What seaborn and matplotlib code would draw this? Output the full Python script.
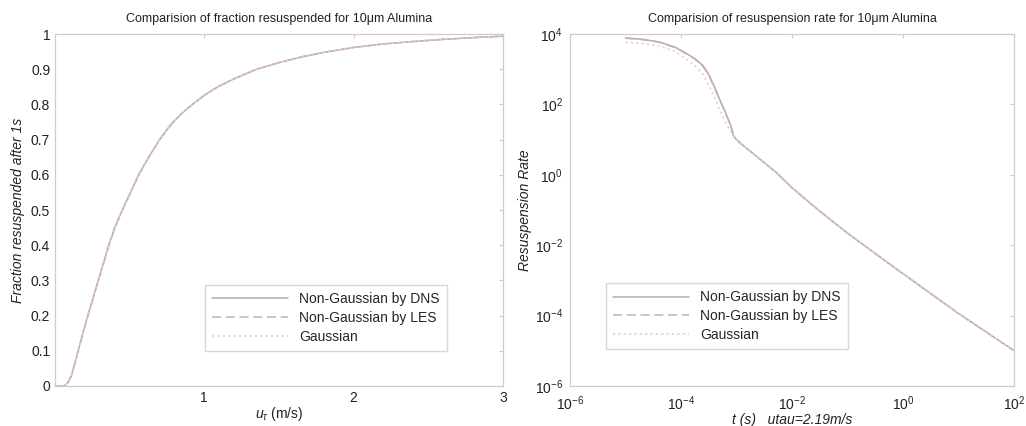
import matplotlib
matplotlib.use("Agg")
import matplotlib.pyplot as plt
import seaborn as sns
import pandas as pd

# fraction resuspended after 1s vs friction velocity
u_tau = [0, 0.05, 0.07, 0.09, 0.11, 0.13, 0.155, 0.19, 0.22, 0.26, 0.29, 0.33, 0.36, 0.40,
         0.45, 0.50, 0.56, 0.62, 0.70, 0.78, 0.85, 0.92, 1.0, 1.09, 1.2, 1.35, 1.5, 1.65,
         1.8, 2.0, 2.2, 2.4, 2.6, 2.8, 3.0]
frac_dns = [0, 0, 0.002, 0.012, 0.03, 0.06, 0.10, 0.155, 0.20, 0.258, 0.30, 0.357, 0.40, 0.45,
            0.50, 0.545, 0.60, 0.645, 0.70, 0.745, 0.775, 0.80, 0.826, 0.85, 0.873, 0.90, 0.919,
            0.935, 0.948, 0.962, 0.972, 0.979, 0.985, 0.990, 0.994]
frac_les = [0, 0, 0.002, 0.011, 0.029, 0.059, 0.099, 0.153, 0.198, 0.256, 0.298, 0.355, 0.398,
            0.448, 0.498, 0.544, 0.599, 0.644, 0.699, 0.744, 0.775, 0.80, 0.826, 0.85, 0.873,
            0.90, 0.919, 0.935, 0.948, 0.962, 0.972, 0.979, 0.985, 0.990, 0.994]
frac_gauss = [0, 0, 0.003, 0.013, 0.031, 0.061, 0.102, 0.157, 0.202, 0.26, 0.302, 0.359, 0.402,
              0.452, 0.502, 0.547, 0.601, 0.646, 0.701, 0.746, 0.776, 0.801, 0.827, 0.851, 0.874,
              0.90, 0.919, 0.935, 0.948, 0.962, 0.972, 0.979, 0.985, 0.990, 0.994]

# resuspension rate vs time (utau = 2.19 m/s)
t_s = [1e-5, 2.0e-5, 4.0e-5, 7.9e-5, 1.26e-4, 1.78e-4, 2.5e-4, 3.16e-4, 4.0e-4, 5.0e-4,
       6.3e-4, 7.9e-4, 8.9e-4, 1.0e-3, 1.26e-3, 1.58e-3, 2.5e-3, 5.0e-3, 1e-2, 3.16e-2,
       0.1, 0.316, 1, 3.16, 10, 31.6, 100]
rate_dns = [7.8e3, 7.1e3, 6.0e3, 4.2e3, 2.8e3, 2.0e3, 1.26e3, 7.1e2, 3.16e2, 1.35e2,
            60, 25, 12.6, 10, 7.2, 5.4, 3.0, 1.23, 0.43, 9.3e-2,
            2.2e-2, 5.8e-3, 1.55e-3, 4.2e-4, 1.15e-4, 3.4e-5, 1.02e-5]
rate_les = [7.6e3, 7.0e3, 5.9e3, 4.1e3, 2.7e3, 1.95e3, 1.2e3, 6.8e2, 3.0e2, 1.3e2,
            58, 24, 12.4, 9.9, 7.2, 5.4, 3.0, 1.22, 0.43, 9.2e-2,
            2.2e-2, 5.8e-3, 1.54e-3, 4.2e-4, 1.14e-4, 3.4e-5, 1.0e-5]
rate_gauss = [5.9e3, 5.4e3, 4.6e3, 3.2e3, 1.9e3, 1.26e3, 7.1e2, 3.5e2, 1.6e2, 69,
              32, 16.6, 12.0, 9.8, 7.3, 5.5, 3.05, 1.25, 0.44, 9.4e-2,
              2.2e-2, 5.9e-3, 1.56e-3, 4.3e-4, 1.16e-4, 3.5e-5, 1.03e-5]

labels = ["Non-Gaussian by DNS", "Non-Gaussian by LES", "Gaussian"]
colors = ["#bfa7a2", "#c7b1ac", "#dcd0ce"]
styles = ["-", (0, (6, 3)), (0, (1.5, 2))]

sns.set_style("white")
plt.rcParams["font.family"] = ["Liberation Sans", "DejaVu Sans"]
plt.rcParams["mathtext.fontset"] = "custom"
plt.rcParams["mathtext.it"] = "Liberation Sans:italic"
plt.rcParams["mathtext.rm"] = "Liberation Sans"

fig = plt.figure(figsize=(10.26, 4.26), dpi=100)
ax1 = fig.add_axes([0.0536, 0.094, 0.4366, 0.826])
ax2 = fig.add_axes([0.5556, 0.094, 0.4327, 0.826])

frac_df = pd.DataFrame({"u": u_tau * 3,
                        "frac": frac_dns + frac_les + frac_gauss,
                        "model": [labels[0]] * len(u_tau) + [labels[1]] * len(u_tau) + [labels[2]] * len(u_tau)})
rate_df = pd.DataFrame({"t": t_s * 3,
                        "rate": rate_dns + rate_les + rate_gauss,
                        "model": [labels[0]] * len(t_s) + [labels[1]] * len(t_s) + [labels[2]] * len(t_s)})

for ax, df, xc, yc in [(ax1, frac_df, "u", "frac"), (ax2, rate_df, "t", "rate")]:
    for lab, col, ls in zip(labels, colors, styles):
        sub = df[df["model"] == lab]
        sns.lineplot(data=sub, x=xc, y=yc, ax=ax, color=col, linestyle=ls,
                     linewidth=1.1, label=lab, sort=False, estimator=None)
    for s in ax.spines.values():
        s.set_color("#d3cbc9")
        s.set_linewidth(0.9)
    ax.tick_params(direction="in", length=3, color="#d3cbc9", labelsize=10,
                   labelcolor="#222222", top=True, right=True)

# left panel
ax1.set_xlim(0, 3)
ax1.set_ylim(0, 1)
ax1.set_xticks([1, 2, 3])
ax1.set_xticklabels(["1", "2", "3"])
yt = [i / 10 for i in range(11)]
ax1.set_yticks(yt)
ax1.set_yticklabels(["0", "0.1", "0.2", "0.3", "0.4", "0.5", "0.6", "0.7", "0.8", "0.9", "1"])
ax1.set_xlabel(r"$u_\tau$ (m/s)", fontsize=10, color="#222222", labelpad=0)
ax1.set_ylabel("Fraction resuspended after 1s", fontsize=10, style="italic", color="#222222", labelpad=4)
ax1.set_title("Comparision of fraction resuspended for 10μm Alumina", fontsize=9, color="#222222", pad=9)
ax1.legend(loc="lower right", bbox_to_anchor=(0.89, 0.08), fontsize=10, frameon=True,
           fancybox=False, edgecolor="#d3cbc9", handlelength=5.5, borderpad=0.5, labelspacing=0.35)

# right panel
ax2.set_xscale("log")
ax2.set_yscale("log")
ax2.set_xlim(1e-6, 1e2)
ax2.set_ylim(1e-6, 1e4)
ax2.set_xticks([1e-6, 1e-4, 1e-2, 1e0, 1e2])
ax2.set_yticks([1e-6, 1e-4, 1e-2, 1e0, 1e2, 1e4])
ax2.minorticks_off()
ax2.tick_params(axis="x", pad=6)
ax2.tick_params(axis="y", pad=5)
ax2.set_xlabel("t (s)   utau=2.19m/s", fontsize=10, style="italic", color="#222222", labelpad=0)
ax2.set_ylabel("Resuspension Rate", fontsize=10, style="italic", color="#222222", labelpad=2)
ax2.set_title("Comparision of resuspension rate for 10μm Alumina", fontsize=9, color="#222222", pad=9)
ax2.legend(loc="lower left", bbox_to_anchor=(0.065, 0.085), fontsize=10, frameon=True,
           fancybox=False, edgecolor="#d3cbc9", handlelength=5.5, borderpad=0.5, labelspacing=0.35)

fig.savefig("out.png", dpi=100)
